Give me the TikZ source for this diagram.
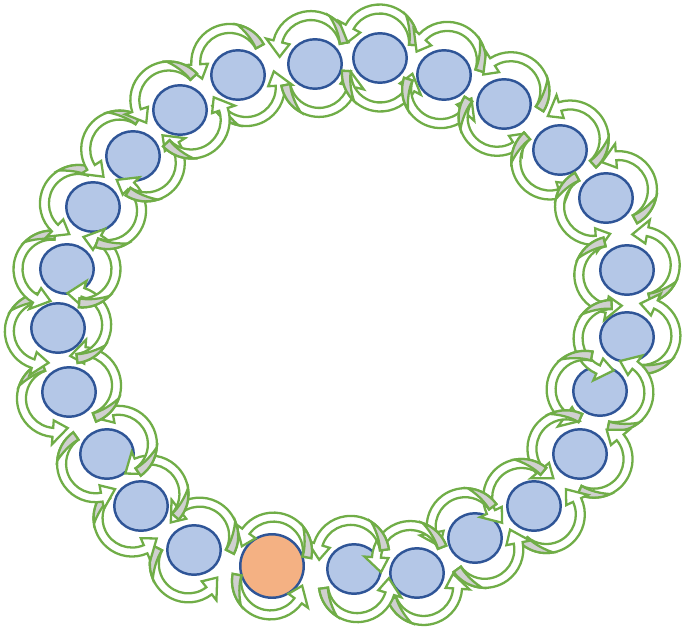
\documentclass[tikz,border=0pt]{standalone}
\usepackage{tikz}
\usetikzlibrary{shapes.geometric}
\definecolor{siteblue}{HTML}{B4C7E7}
\definecolor{siteedge}{HTML}{2F5597}
\definecolor{seedorange}{HTML}{F4B183}
\definecolor{spingreen}{HTML}{70AD47}
\definecolor{spingray}{HTML}{D0D0D0}

\newcommand{\spinarrow}{%
    \draw[spinband] (-5:38.5) arc[start angle=-5, end angle=150, radius=38.5]
      -- (150:46) -- (177:32) -- (150:22) -- (150:29.5)
      arc[start angle=150, end angle=-5, radius=29.5] -- cycle;
    \draw[spintail] (-5:38.5) arc[start angle=-5, end angle=45, radius=38.5]
      .. controls (22:34) and (2:30.5) .. (-5:29.5) -- cycle;
}

\begin{document}
\begin{tikzpicture}[x=0.02cm, y=0.02cm,
    site/.style={ellipse, draw=siteedge, line width=1.4pt, fill=siteblue, inner sep=0pt, minimum width=1.07cm, minimum height=0.99cm},
    seed/.style={site, circle, fill=seedorange, minimum size=1.27cm},
    spinband/.style={draw=spingreen, line width=1.3pt, fill=white},
    spintail/.style={draw=spingreen, line width=1.3pt, fill=spingray}
]
    \useasboundingbox (0,0) rectangle (682,-632);
    \coordinate (hub) at (342,-316);

    % ring of sites, clockwise from the top left
    \node[site] (site1)  at (238,-75)  {};
    \node[site] (site2)  at (315,-64)  {};
    \node[site] (site3)  at (380,-58)  {};
    \node[site] (site4)  at (444,-75)  {};
    \node[site] (site5)  at (504,-104) {};
    \node[site] (site6)  at (560,-150) {};
    \node[site] (site7)  at (606,-198) {};
    \node[site] (site8)  at (627,-270) {};
    \node[site] (site9)  at (627,-337) {};
    \node[site] (site10) at (600,-391) {};
    \node[site] (site11) at (580,-454) {};
    \node[site] (site12) at (534,-506) {};
    \node[site] (site13) at (475,-538) {};
    \node[site] (site14) at (417,-573) {};
    \node[site] (site15) at (354,-569) {};
    \node[seed] (site16) at (272,-566) {};
    \node[site] (site17) at (194,-550) {};
    \node[site] (site18) at (141,-506) {};
    \node[site] (site19) at (107,-454) {};
    \node[site] (site20) at (69,-392)  {};
    \node[site] (site21) at (58,-328)  {};
    \node[site] (site22) at (67,-269)  {};
    \node[site] (site23) at (93,-207)  {};
    \node[site] (site24) at (133,-156) {};
    \node[site] (site25) at (180,-110) {};

    % two curled arrows round every site, turned to follow the ring
    \path (hub); \pgfgetlastxy{\hubx}{\huby}
    \foreach \i in {1,...,25} {
        \path (site\i.center); \pgfgetlastxy{\sitex}{\sitey}
        \pgfmathsetmacro\spinrot{atan2(\sitey-\huby,\sitex-\hubx)-80}
        \begin{scope}[shift={(site\i.center)}, rotate=\spinrot]
            \begin{scope}[shift={(0,15)}]
                \spinarrow
            \end{scope}
            \begin{scope}[rotate=180, shift={(0,15)}]
                \spinarrow
            \end{scope}
        \end{scope}
    }
\end{tikzpicture}
\end{document}
